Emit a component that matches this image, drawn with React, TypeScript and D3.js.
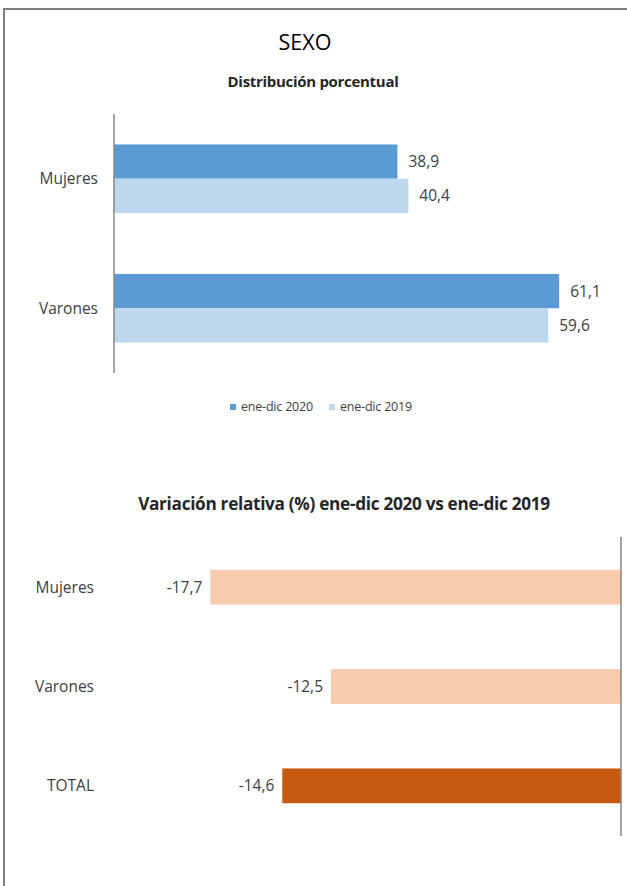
import React from "react";
import * as d3 from "d3";

const distCategories = ["Mujeres", "Varones"];
const distSeries = ["ene-dic 2020", "ene-dic 2019"];
const dist2020 = [38.9, 61.1];
const dist2019 = [40.4, 59.6];

const varCategories = ["Mujeres", "Varones", "TOTAL"];
const varValues = [-17.7, -12.5, -14.6];

const FONT = "'Open Sans', Lato, sans-serif";
const fmt = (v: number) => v.toFixed(1).replace(".", ",");

export default function App() {
  const W = 627, H = 886;
  // top chart scales
  const x1 = d3.scaleLinear().domain([0, 70]).range([114, 624]);
  const y1 = d3.scaleBand().domain(distCategories).range([114, 373]).paddingInner(0.47).paddingOuter(0.235);
  const sub = d3.scaleBand().domain(distSeries).range([0, y1.bandwidth()]);
  const colors = ["#5B9BD5", "#BDD7EE"];
  const seriesVals = [dist2020, dist2019];

  // bottom chart scales
  const x2 = d3.scaleLinear().domain([-20, 0]).range([157, 621]);
  const y2 = d3.scaleBand().domain(varCategories).range([537, 836]).paddingInner(0.65).paddingOuter(0.33);
  const varColors = ["#F8CBAD", "#F8CBAD", "#C55A11"];

  return (
    <svg width={W} height={H} style={{ position: "absolute", left: 0, top: 0, background: "#fff" }} fontFamily={FONT}>
      <rect x={0} y={0} width={W} height={H} fill="#fff" />
      <line x1={3} y1={9} x2={W} y2={9} stroke="#7f7f7f" strokeWidth={2} />
      <line x1={4} y1={9} x2={4} y2={H} stroke="#7f7f7f" strokeWidth={2} />

      <text x={305} y={50} textAnchor="middle" fontSize={21.5} fill="#000">SEXO</text>
      <text x={313} y={87} textAnchor="middle" fontSize={15} fontWeight="bold" fill="#262626" letterSpacing={-0.3}>Distribución porcentual</text>

      {distCategories.map((c, i) => (
        <g key={c}>
          {distSeries.map((s, j) => {
            const v = seriesVals[j][i];
            const y = (y1(c) as number) + (sub(s) as number);
            return (
              <g key={s}>
                <rect x={x1(0)} y={y} width={x1(v) - x1(0)} height={sub.bandwidth()} fill={colors[j]} />
                <text x={x1(v) + 11} y={y + sub.bandwidth() / 2} dy="0.35em" fontSize={15.5} fill="#404040">{fmt(v)}</text>
              </g>
            );
          })}
          <text x={98} y={(y1(c) as number) + y1.bandwidth() / 2} dy="0.35em" textAnchor="end" fontSize={15.5} fill="#404040">{c}</text>
        </g>
      ))}
      <line x1={x1(0)} y1={114} x2={x1(0)} y2={373} stroke="#868686" strokeWidth={1.5} />

      {distSeries.map((s, j) => {
        const lx = [230, 329][j];
        return (
          <g key={s}>
            <rect x={lx} y={404} width={6} height={6} fill={colors[j]} />
            <text x={lx + 11} y={407} dy="0.35em" fontSize={12.5} fill="#404040" letterSpacing={-0.2}>{s}</text>
          </g>
        );
      })}

      <text x={344} y={510} textAnchor="middle" fontSize={17.2} fontWeight="bold" fill="#262626" letterSpacing={-0.3}>Variación relativa (%) ene-dic 2020 vs ene-dic 2019</text>

      {varCategories.map((c, i) => {
        const v = varValues[i];
        const y = y2(c) as number;
        return (
          <g key={c}>
            <rect x={x2(v)} y={y} width={x2(0) - x2(v)} height={y2.bandwidth()} fill={varColors[i]} />
            <text x={x2(v) - 8} y={y + y2.bandwidth() / 2} dy="0.35em" textAnchor="end" fontSize={15.5} fill="#404040">{fmt(v)}</text>
            <text x={94} y={y + y2.bandwidth() / 2} dy="0.35em" textAnchor="end" fontSize={15.5} fill="#404040">{c}</text>
          </g>
        );
      })}
      <line x1={x2(0)} y1={537} x2={x2(0)} y2={836} stroke="#868686" strokeWidth={1.5} />
    </svg>
  );
}
